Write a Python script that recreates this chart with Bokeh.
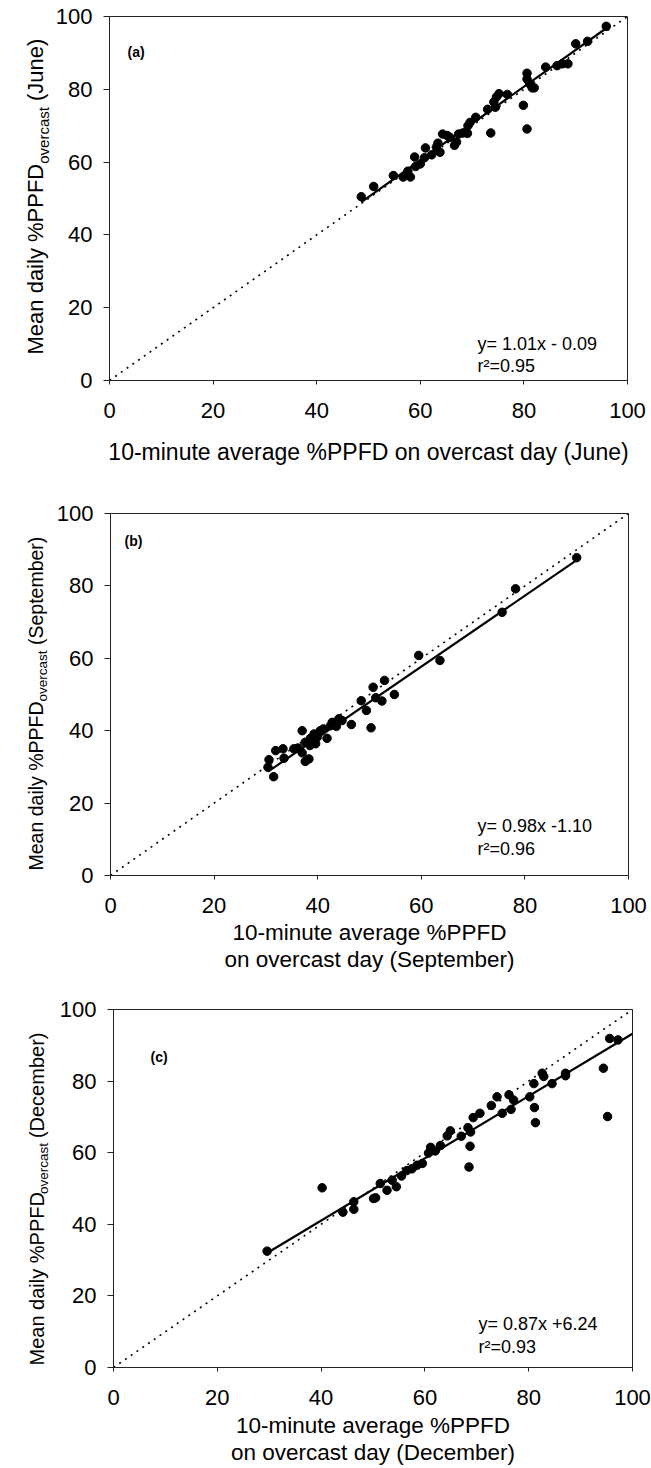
from math import pi
from bokeh.plotting import figure
from bokeh.models import Range1d, Label, FixedTicker
from bokeh.layouts import column, row
from bokeh.core.properties import value
from bokeh.embed import file_html
from bokeh.resources import INLINE

# ---------------- data ----------------
ticks = [0, 20, 40, 60, 80, 100]

june_x = [48.6, 51.0, 54.8, 56.7, 57.6, 58.1, 59.1, 58.9, 60.8, 61.0, 63.1, 63.8, 63.4,
          64.3, 65.2, 65.7, 66.6, 67.4, 69.1, 69.2, 69.6, 70.7, 73.6, 74.5, 74.2, 74.7,
          75.2, 76.8, 79.9, 80.6, 80.6, 80.6, 81.1, 81.6, 82.0, 84.2, 86.4, 87.4, 88.5,
          90.0, 92.3, 95.9, 60.0, 62.2, 67.0, 68.2, 73.0]
june_y = [50.5, 53.3, 56.3, 55.9, 57.5, 55.9, 58.8, 61.4, 61.2, 63.9, 64.1, 62.7, 65.2,
          67.7, 67.3, 66.8, 64.6, 67.7, 67.9, 70.0, 70.9, 72.3, 68.0, 75.1, 76.5, 77.9,
          78.8, 78.6, 75.6, 69.1, 84.4, 82.8, 81.5, 80.4, 80.4, 86.1, 86.5, 87.0, 87.0,
          92.5, 93.2, 97.3, 59.5, 62.0, 65.5, 68.0, 74.5]

sep_x = [90.0, 78.2, 75.6, 63.6, 59.5, 52.9, 54.8, 50.7, 48.4, 51.2, 52.4, 49.4, 50.3,
         46.5, 30.6, 30.4, 31.5, 31.9, 33.3, 33.5, 35.4, 36.2, 37.0, 37.0, 37.6, 38.3,
         37.6, 38.6, 38.5, 39.3, 39.6, 39.9, 40.5, 41.1, 41.8, 42.5, 42.8, 43.6, 44.1,
         44.7]
sep_y = [87.8, 79.2, 72.7, 59.4, 60.8, 53.9, 50.0, 52.0, 48.3, 49.1, 48.2, 45.6, 40.8,
         41.7, 32.0, 29.9, 27.3, 34.5, 35.0, 32.4, 35.0, 35.2, 40.0, 33.9, 31.5, 32.2,
         36.8, 37.9, 35.9, 39.1, 36.4, 38.2, 40.0, 40.5, 37.9, 41.4, 42.3, 41.2, 43.3,
         42.8]

dec_x = [95.6, 97.2, 94.4, 95.2, 87.1, 87.1, 84.5, 82.9, 82.6, 81.0, 80.2, 81.1, 81.3,
         77.1, 76.6, 76.2, 74.9, 73.9, 72.8, 70.6, 69.3, 68.8, 68.3, 68.7, 67.0, 64.9,
         64.3, 63.0, 61.1, 60.7, 29.6, 40.2, 44.2, 46.3, 46.3, 50.1, 50.5, 51.4, 52.7,
         53.7, 54.5, 55.5, 56.5, 57.5, 58.5, 59.5, 62.0, 68.5]
dec_y = [91.9, 91.5, 83.6, 70.1, 82.2, 81.5, 79.3, 81.3, 82.2, 79.3, 75.6, 72.6, 68.4,
         74.7, 72.1, 76.2, 71.0, 75.6, 73.2, 71.0, 69.8, 65.8, 67.0, 61.8, 64.6, 66.1,
         64.7, 62.0, 61.5, 59.9, 32.5, 50.2, 43.4, 46.3, 44.2, 47.2, 47.4, 51.4, 49.5,
         52.3, 50.5, 53.5, 55.0, 55.5, 56.5, 57.0, 60.5, 56.0]

fits = {"june": (1.01, -0.09), "sep": (0.98, -1.10), "dec": (0.87, 6.24)}
eq_text = {"june": ("y= 1.01x - 0.09", "r\u00b2=0.95"),
           "sep": ("y= 0.98x -1.10", "r\u00b2=0.96"),
           "dec": ("y= 0.87x +6.24", "r\u00b2=0.93")}
x_titles = {"june": "10-minute average %PPFD on overcast day (June)",
            "sep": "10-minute average %PPFD\non overcast day (September)",
            "dec": "10-minute average %PPFD\non overcast day (December)"}
y_title_main = "Mean daily %PPFD"
y_title_sub = "overcast"
y_title_suffix = {"june": "(June)", "sep": "(September)", "dec": "(December)"}
letters = {"june": "(a)", "sep": "(b)", "dec": "(c)"}

FONT = "Liberation Sans"
PAGE_W = 651
WL = 52  # width of the strip that holds the rotated y title

# Arial advance widths (1/1000 em) for laying out the composite y title
AW = {" ": 278, "(": 333, ")": 333, "%": 889, "-": 333, ".": 278, "=": 584, "+": 584}
AW.update({d: 556 for d in "0123456789"})
AW.update(dict(zip("ABCDEFGHIJKLMNOPQRSTUVWXYZ",
                   [667, 667, 722, 722, 667, 611, 778, 722, 278, 500, 667, 556, 833, 722,
                    778, 667, 778, 722, 667, 611, 722, 667, 944, 667, 667, 611])))
AW.update(dict(zip("abcdefghijklmnopqrstuvwxyz",
                   [556, 556, 500, 556, 556, 278, 556, 556, 222, 222, 500, 222, 833, 556,
                    556, 556, 556, 333, 500, 278, 556, 500, 722, 500, 500, 500])))


def tw(s, size):
    return sum(AW.get(c, 556) for c in s) * size / 1000.0


def y_title_strip(cfg):
    # strip whose frame coincides vertically with the panel frame
    L, R, T, B = cfg["frame"]
    top, bot = cfg["span"]
    h = bot - top
    s = figure(width=WL, height=h, x_range=Range1d(0, WL), y_range=Range1d(T, B),
               toolbar_location=None, output_backend="svg",
               min_border_left=0, min_border_right=0,
               min_border_top=T - top, min_border_bottom=bot - B,
               x_axis_location=None, y_axis_location=None)
    s.outline_line_color = None
    s.grid.visible = False
    s.background_fill_color = "white"
    s.border_fill_color = "white"
    bx, ystart, F, Fs, suboff = cfg["ytitle"]
    # (text, font size, baseline shift, extra gap before the part)
    parts = [(y_title_main, F, 0, 0.0), (y_title_sub, Fs, suboff, 0.0),
             (y_title_suffix[cfg["key"]], F, 0, tw(" ", F))]
    ycur = ystart
    for t, size, off, gap in parts:
        ycur -= gap
        # page y -> range value (range runs T at the frame bottom .. B at its top)
        s.text(x=[bx + off], y=[T + B - ycur], text=[t], angle=pi / 2,
               text_font=value(FONT), text_font_size=value(f"{size}px"),
               text_align="left", text_baseline="alphabetic", text_color="black")
        ycur -= tw(t, size)
    return s


def make_panel(cfg):
    L, R, T, B = cfg["frame"]
    top, bot = cfg["span"]
    h = bot - top
    key = cfg["key"]

    def dx(px):
        return (px - L) / (R - L) * 100.0

    def dy(py):
        return (B - py) / (B - T) * 100.0

    p = figure(width=PAGE_W - WL, height=h, x_range=Range1d(0, 100), y_range=Range1d(0, 100),
               toolbar_location=None, output_backend="svg",
               min_border_left=L - WL, min_border_right=PAGE_W - R,
               min_border_top=T - top, min_border_bottom=bot - B)
    p.grid.visible = False
    p.background_fill_color = "white"
    p.border_fill_color = "white"
    p.outline_line_color = "#222222"
    p.outline_line_width = 1
    for ax in (p.xaxis[0], p.yaxis[0]):
        ax.ticker = FixedTicker(ticks=ticks)
        ax.minor_tick_line_color = None
        ax.axis_line_color = "#222222"
        ax.major_tick_line_color = "#222222"
        ax.major_tick_in = 0
        ax.major_label_text_font = FONT
        ax.major_label_text_font_size = "22px"
        ax.major_label_text_color = "black"
    p.xaxis.major_tick_out = 4
    p.xaxis.major_label_standoff = 18
    p.yaxis.major_tick_out = 6
    p.yaxis.major_label_standoff = 11
    p.yaxis.axis_label = None
    p.xaxis.axis_label = x_titles[key]
    p.xaxis.axis_label_text_font = FONT
    p.xaxis.axis_label_text_font_style = "normal"
    p.xaxis.axis_label_text_font_size = f"{cfg['xfs']}px"
    p.xaxis.axis_label_text_color = "black"
    p.xaxis.axis_label_standoff = cfg["xstand"]
    p.xaxis.axis_label_text_line_height = cfg.get("xlh", 1.1)

    xs, ys = cfg["x"], cfg["y"]
    # 1:1 reference line
    p.line([0, 100], [0, 100], line_color="black", line_width=1.6, line_dash="2 5")
    # regression line
    k, b = fits[key]
    x0 = min(xs)
    x1 = cfg.get("fit_end", max(xs))
    p.line([x0, x1], [k * x0 + b, k * x1 + b], line_color="black", line_width=2.2)
    p.scatter(xs, ys, size=8.5, color="black")

    lx, lb = cfg["letter_pos"]
    p.add_layout(Label(x=dx(lx), y=dy(lb), text=letters[key], text_font=FONT,
                       text_font_size="14px", text_font_style="bold", text_color="black",
                       text_align="left", text_baseline="alphabetic"))
    ex, eb1, eb2 = cfg["eq_pos"]
    e1, e2 = eq_text[key]
    for t, by in ((e1, eb1), (e2, eb2)):
        p.add_layout(Label(x=dx(ex), y=dy(by), text=t, text_font=FONT,
                           text_font_size="18px", text_color="black", text_align="left",
                           text_baseline="alphabetic"))
    return row(y_title_strip(cfg), p, spacing=0)


cfgs = [
    dict(key="june", x=june_x, y=june_y, frame=(109, 627, 16, 380), span=(0, 480),
         letter_pos=(127, 51), eq_pos=(477, 343, 365), xfs=23, xstand=18,
         ytitle=(35, 354, 22, 15, 8)),
    dict(key="sep", x=sep_x, y=sep_y, frame=(110, 628, 513, 875), span=(480, 985),
         letter_pos=(124, 540), eq_pos=(477, 825, 848), xfs=22.5, xstand=4,
         ytitle=(35, 870, 19.5, 13.5, 7)),
    dict(key="dec", x=dec_x, y=dec_y, frame=(113, 632, 1009, 1371), span=(985, 1468),
         letter_pos=(150, 1057), eq_pos=(478, 1327, 1350), fit_end=100, xfs=22.5, xstand=5,
         ytitle=(36, 1369, 20, 13.5, 7)),
]

layout = column(*[make_panel(c) for c in cfgs], spacing=0)

open("out.html", "w").write(file_html(layout, INLINE))
